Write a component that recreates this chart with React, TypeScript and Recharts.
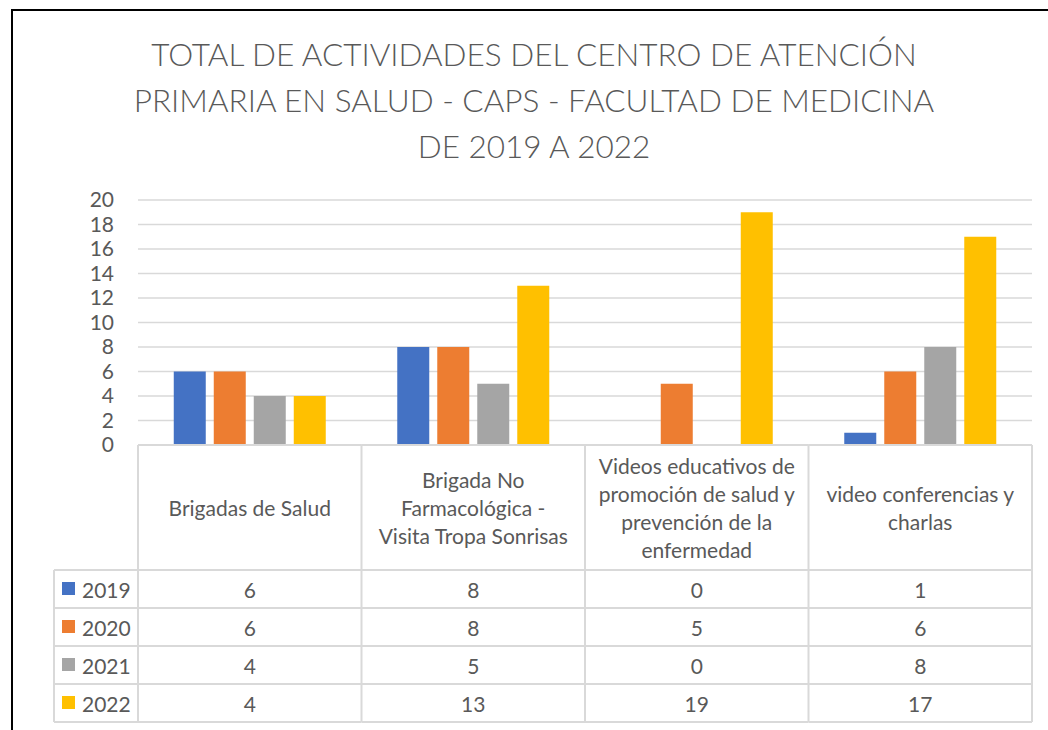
import React from 'react';
import { BarChart, Bar, XAxis, YAxis, CartesianGrid } from 'recharts';

const categories = [
  'Brigadas de Salud',
  'Brigada No Farmacológica - Visita Tropa Sonrisas',
  'Videos educativos de promoción de salud y prevención de la enfermedad',
  'video conferencias y charlas',
];
const categoryLines = [
  ['Brigadas de Salud'],
  ['Brigada No', 'Farmacológica -', 'Visita Tropa Sonrisas'],
  ['Videos educativos de', 'promoción de salud y', 'prevención de la', 'enfermedad'],
  ['video conferencias y', 'charlas'],
];
const years = ['2019', '2020', '2021', '2022'];
const values2019 = [6, 8, 0, 1];
const values2020 = [6, 8, 5, 6];
const values2021 = [4, 5, 0, 8];
const values2022 = [4, 13, 19, 17];
const yTicks = [0, 2, 4, 6, 8, 10, 12, 14, 16, 18, 20];
const titleLines = [
  'TOTAL DE ACTIVIDADES DEL CENTRO DE ATENCIÓN',
  'PRIMARIA EN SALUD - CAPS - FACULTAD DE MEDICINA',
  'DE 2019 A 2022',
];

const seriesValues = [values2019, values2020, values2021, values2022];
const colors = ['#4472C4', '#ED7D31', '#A5A5A5', '#FFC000'];

const data = categories.map((name, i) => ({
  name,
  y2019: values2019[i],
  y2020: values2020[i],
  y2021: values2021[i],
  y2022: values2022[i],
}));

const FONT = 'Lato, "Open Sans", sans-serif';
const TEXT = '#595959';
const LINE = '#d9d9d9';
const FS = 21;

const W = 1048;
const H = 730;
const Y_AXIS_W = 60;
const MARGIN = { top: 200, right: 16, left: 78, bottom: 8 };
const X_AXIS_H = 277;
const PLOT_W = W - MARGIN.left - Y_AXIS_W - MARGIN.right;
const BAND = PLOT_W / categories.length;
const HEADER_H = 125;
const ROW_H = 38;
const LEGEND_LEFT = 54;

const TableTick: React.FC<any> = ({ x, y, payload }) => {
  const i = payload.index;
  const left = x - BAND / 2;
  const right = x + BAND / 2;
  const lines = categoryLines[i];
  const headerMid = y + HEADER_H / 2;
  const lh = 28;
  const bottom = y + HEADER_H + ROW_H * years.length;
  return (
    <g fontFamily={FONT} fill={TEXT}>
      <line x1={left} x2={left} y1={y} y2={bottom} stroke={LINE} strokeWidth={2} />
      {i === categories.length - 1 && (
        <line x1={right} x2={right} y1={y} y2={bottom} stroke={LINE} strokeWidth={2} />
      )}
      <line x1={left} x2={right} y1={y} y2={y} stroke={LINE} strokeWidth={2} />
      {lines.map((t, k) => (
        <text
          key={k}
          x={x}
          y={headerMid + (k - (lines.length - 1) / 2) * lh}
          textAnchor="middle"
          dominantBaseline="central"
          fontSize={FS}
        >
          {t}
        </text>
      ))}
      {years.map((yr, r) => {
        const top = y + HEADER_H + r * ROW_H;
        return (
          <g key={yr}>
            <line x1={left} x2={right} y1={top} y2={top} stroke={LINE} strokeWidth={2} />
            <text x={x} y={top + ROW_H / 2} textAnchor="middle" dominantBaseline="central" fontSize={FS}>
              {seriesValues[r][i]}
            </text>
          </g>
        );
      })}
      <line x1={left} x2={right} y1={bottom} y2={bottom} stroke={LINE} strokeWidth={2} />
      {i === 0 && (
        <g>
          <line x1={LEGEND_LEFT} x2={LEGEND_LEFT} y1={y + HEADER_H} y2={bottom} stroke={LINE} strokeWidth={2} />
          {years.map((yr, r) => {
            const top = y + HEADER_H + r * ROW_H;
            return (
              <g key={yr}>
                <line x1={LEGEND_LEFT} x2={left} y1={top} y2={top} stroke={LINE} strokeWidth={2} />
                <rect x={LEGEND_LEFT + 8} y={top + ROW_H / 2 - 7} width={13} height={13} fill={colors[r]} />
                <text x={LEGEND_LEFT + 28} y={top + ROW_H / 2} dominantBaseline="central" fontSize={FS}>
                  {yr}
                </text>
              </g>
            );
          })}
          <line x1={LEGEND_LEFT} x2={left} y1={bottom} y2={bottom} stroke={LINE} strokeWidth={2} />
        </g>
      )}
    </g>
  );
};

export default function App() {
  return (
    <div style={{ position: 'absolute', left: 0, top: 0, width: W, height: H, overflow: 'hidden', background: '#fff' }}>
      <div
        style={{
          position: 'absolute',
          left: 11,
          top: 9,
          width: W,
          height: H,
          border: '2px solid #000',
          boxSizing: 'border-box',
        }}
      />
      <div
        style={{
          position: 'absolute',
          left: 0,
          top: 31,
          width: 1068,
          textAlign: 'center',
          fontFamily: FONT,
          fontSize: 31.5,
          fontWeight: 300,
          lineHeight: '46px',
          color: TEXT,
        }}
      >
        {titleLines.map((t) => (
          <div key={t}>{t}</div>
        ))}
      </div>
      <div style={{ position: 'absolute', left: 0, top: 0 }}>
        <BarChart
          width={W}
          height={H}
          data={data}
          margin={MARGIN}
          barGap={8}
          barCategoryGap="16%"
        >
          <CartesianGrid vertical={false} stroke={LINE} strokeWidth={1.5} />
          <XAxis
            dataKey="name"
            height={X_AXIS_H}
            axisLine={false}
            tickLine={false}
            tickSize={0}
            tickMargin={0}
            interval={0}
            tick={<TableTick />}
          />
          <YAxis
            width={Y_AXIS_W}
            domain={[0, 20]}
            ticks={yTicks}
            interval={0}
            axisLine={false}
            tickLine={false}
            tickMargin={18}
            tick={{ fontSize: FS, fill: TEXT, fontFamily: FONT }}
          />
          {years.map((yr, r) => (
            <Bar key={yr} dataKey={`y${yr}`} fill={colors[r]} isAnimationActive={false} />
          ))}
        </BarChart>
      </div>
    </div>
  );
}
